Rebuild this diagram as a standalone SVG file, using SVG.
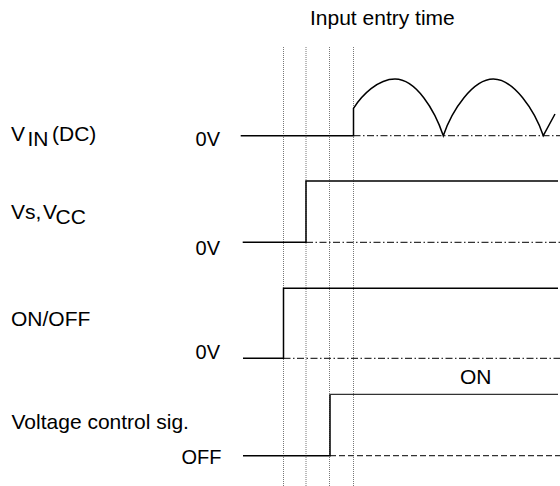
<svg xmlns="http://www.w3.org/2000/svg" width="560" height="486" viewBox="0 0 560 486">
<style>
text{font-family:"Liberation Sans",Arial,sans-serif;fill:#000;font-size:21px}
.lv{font-size:20px;text-anchor:end}
.w{fill:none;stroke:#000;stroke-width:1.5}
.hi{fill:none;stroke:#333;stroke-width:1.3}
.dd{fill:none;stroke:#333;stroke-width:1.2;stroke-dasharray:7 2.5 1.5 2.5}
.ds{fill:none;stroke:#333;stroke-width:1.2;stroke-dasharray:6 3}
.g{fill:none;stroke:#777;stroke-width:1;stroke-dasharray:1 1}
</style>
<rect width="560" height="486" fill="#fff"/>
<g id="guides">
<text x="310" y="25">Input entry time</text>
<line class="g" x1="283.5" y1="47" x2="283.5" y2="486"/>
<line class="g" x1="306" y1="47" x2="306" y2="486"/>
<line class="g" x1="329.5" y1="47" x2="329.5" y2="486"/>
<line class="g" x1="353.5" y1="47" x2="353.5" y2="486"/>
</g>
<g id="vin">
<text x="11" y="141" font-size="21">V</text>
<text x="27.5" y="146" font-size="19">IN</text>
<text x="52" y="141" font-size="19">(DC)</text>
<text class="lv" x="220" y="146">0V</text>
<line class="dd" x1="353.5" y1="135.7" x2="560" y2="135.7"/>
<path class="w" d="M240.7,135.7 H353.5 V108.3 C362,95 378,79 395,79 C416,79 434.6,110 443.3,135.7 C452,110 473,79 493.3,79 C513.6,79 534.6,110 543.3,135.7 L555,114"/>
</g>
<g id="vs">
<text x="11" y="218.5" font-size="19">Vs,</text>
<text x="43" y="218.5" font-size="17">V</text>
<text x="55.5" y="224" font-size="21">CC</text>
<text class="lv" x="220" y="255">0V</text>
<line class="dd" x1="306" y1="242.3" x2="560" y2="242.3"/>
<path class="w" d="M242.7,242.3 H306 V181 H558"/>
</g>
<g id="onoff">
<text x="11" y="326">ON/OFF</text>
<text class="lv" x="220" y="359">0V</text>
<line class="dd" x1="283.5" y1="358.3" x2="560" y2="358.3"/>
<path class="w" d="M243,358.3 H283.5 V288.3 H558"/>
</g>
<g id="vctrl">
<text x="11.5" y="428.5">Voltage control sig.</text>
<text class="lv" x="221.5" y="464" font-size="21">OFF</text>
<text x="460" y="384.3">ON</text>
<line class="ds" x1="330" y1="455.7" x2="560" y2="455.7"/>
<path class="w" d="M243,455.7 H330 V394.3"/>
<line class="hi" x1="330" y1="394.3" x2="558" y2="394.3"/>
</g>
</svg>
